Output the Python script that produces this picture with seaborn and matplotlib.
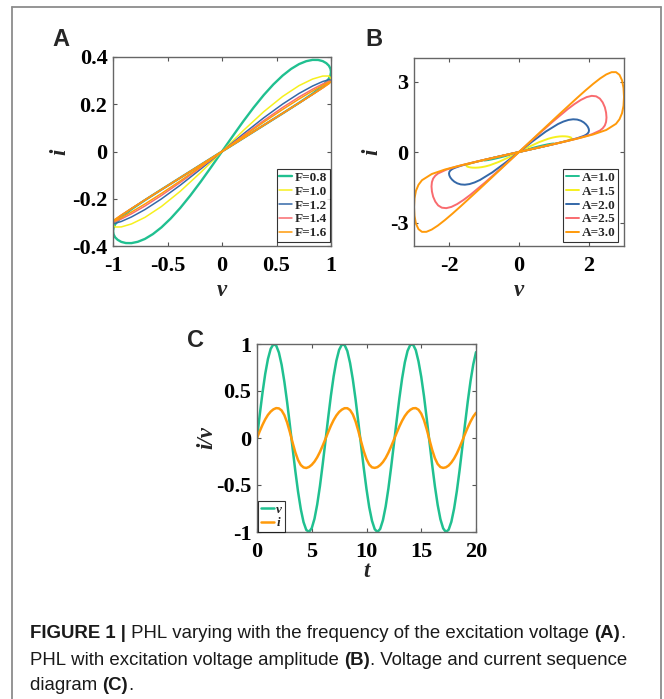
import numpy as np
import pandas as pd
import matplotlib
matplotlib.use("Agg")
import matplotlib.pyplot as plt
import seaborn as sns
from matplotlib.lines import Line2D
from matplotlib import font_manager

# ---------------- data ----------------
# Panel A: first-quadrant lobe of each pinched loop (the third-quadrant lobe is its point mirror)
A_V_LOBE = [0, .195, .383, .556, .707, .831, .924, .981, 1, .981, .924, .831, .707, .556, .383, .195, 0]
A_V_LOBE_08 = [0, .195, .383, .556, .707, .831, .924, .981, .995, 1, .995, .981, .957, .924, .882,
               .831, .773, .707, .634, .556, .471, .383, .290, .195, .098, 0]
A_I_F08 = [0, .0566, .1111, .1613, .2059, .2444, .2781, .3085, .3228, .3369, .3504, .3631, .3739,
           .3826, .3875, .3878, .3823, .3700, .3496, .3213, .2838, .2390, .1860, .1276, .0649, 0]
A_I_F10 = [0, .0566, .1111, .1613, .2054, .2425, .2725, .2953, .3110, .3196, .3193, .3067, .2789, .2329, .1684, .0884, 0]
A_I_F12 = [0, .0566, .1111, .1613, .2052, .2418, .2705, .2904, .3016, .3039, .2962, .2772, .2458, .2007, .1426, .0741, 0]
A_I_F14 = [0, .0566, .1111, .1613, .2051, .2415, .2695, .2882, .2973, .2967, .2858, .2638, .2307, .1862, .1309, .0676, 0]
A_I_F16 = [0, .0566, .1111, .1613, .2051, .2413, .2690, .2869, .2949, .2926, .2799, .2563, .2222, .1779, .1244, .0639, 0]
A_LABELS = ["F=0.8", "F=1.0", "F=1.2", "F=1.4", "F=1.6"]

# Panel B
B_V_10 = [0, .195, .383, .556, .707, .831, .924, .957, .981, .995, 1, .995, .981, .957, .924, .831, .707, .556, .383, .195, 0]
B_I_10 = [0, .0654, .1286, .1873, .2393, .2832, .3182, .3318, .3430, .3512, .3569, .3599, .3599, .3569, .3510, .3287, .2918, .2391, .1704, .0887, 0]
B_V_15 = [0, .293, .575, .834, 1.061, 1.247, 1.386, 1.435, 1.472, 1.493, 1.5, 1.493, 1.472, 1.435, 1.386,
          1.323, 1.247, 1.160, 1.061, .951, .834, .575, .293, 0]
B_I_15 = [0, .0981, .1932, .2818, .3613, .4308, .4904, .5165, .5409, .5638, .585, .6054, .6245, .6414, .6563,
          .6656, .6685, .6622, .6433, .6106, .5631, .4204, .2248, 0]
B_V_20 = [0, .39, .766, 1.112, 1.414, 1.662, 1.848, 1.914, 1.962, 1.990, 2, 1.990, 1.962, 1.914, 1.848,
          1.764, 1.662, 1.546, 1.414, 1.268, 1.112, .766, .39, 0]
B_I_20 = [0, .1308, .2579, .3771, .486, .5859, .6825, .7327, .7874, .8478, .9174, .9962, 1.0838, 1.1747, 1.2618,
          1.333, 1.3803, 1.392, 1.3649, 1.295, 1.1878, .8703, .4575, 0]
B_V_25 = [0, .488, .958, 1.39, 1.768, 2.078, 2.31, 2.392, 2.453, 2.488, 2.5, 2.488, 2.453, 2.392, 2.31,
          2.205, 2.078, 1.933, 1.768, 1.585, 1.39, .958, .488, 0]
B_I_25 = [0, .1636, .3228, .4732, .614, .7523, .9104, 1.009, 1.1309, 1.282, 1.4663, 1.678, 1.9017, 2.109, 2.273,
          2.369, 2.3898, 2.337, 2.2164, 2.040, 1.8226, 1.2839, .6605, 0]
B_V_30 = [0, .585, 1.149, 1.668, 2.121, 2.493, 2.772, 2.871, 2.943, 2.986, 3, 2.986, 2.943, 2.871, 2.772,
          2.646, 2.493, 2.319, 2.121, 1.902, 1.668, 1.149, .585, 0]
B_I_30 = [0, .196, .388, .570, .747, .937, 1.200, 1.393, 1.648, 1.969, 2.342, 2.723, 3.054, 3.284, 3.398,
          3.397, 3.300, 3.131, 2.901, 2.624, 2.313, 1.603, .818, 0]
B_LABELS = ["A=1.0", "A=1.5", "A=2.0", "A=2.5", "A=3.0"]

# Panel C: time series sampled every 0.25
C_T = np.arange(0, 20.25, 0.25)
C_V = [0, .247, .479, .682, .841, .949, .997, .984, .909, .778, .598, .382, .141, -.108, -.351, -.572,
       -.757, -.895, -.978, -.999, -.959, -.859, -.706, -.510, -.279, -.033, .215, .451, .657, .823,
       .938, .994, .989, .925, .798, .624, .412, .173, -.075, -.319, -.544, -.737, -.880, -.970,
       -1.000, -.967, -.875, -.729, -.537, -.310, -.066, .182, .420, .632, .804, .927, .991, .994,
       .935, .814, .650, .445, .206, -.042, -.288, -.516, -.712, -.864, -.961, -1.000, -.976, -.891,
       -.751, -.565, -.344, -.099, .150, .390, .605, .783, .913]
C_I = [0, .072, .139, .198, .246, .281, .305, .318, .315, .293, .243, .165, .063, -.048, -.153, -.235,
       -.288, -.313, -.319, -.308, -.285, -.251, -.205, -.148, -.081, -.010, .062, .131, .191, .240,
       .277, .302, .317, .317, .297, .251, .177, .077, -.034, -.140, -.225, -.283, -.312, -.318,
       -.310, -.288, -.256, -.212, -.156, -.090, -.019, .053, .122, .183, .234, .273, .300, .316,
       .318, .301, .259, .189, .092, -.019, -.127, -.216, -.277, -.309, -.318, -.312, -.293, -.261,
       -.218, -.164, -.100, -.029, .044, .113, .175, .228, .268]

A_XTICKS = [-1, -0.5, 0, 0.5, 1]
A_XTICKLABELS = ["-1", "-0.5", "0", "0.5", "1"]
A_YTICKS = [-0.4, -0.2, 0, 0.2, 0.4]
A_YTICKLABELS = ["-0.4", "-0.2", "0", "0.2", "0.4"]
B_XTICKS = [-2, 0, 2]
B_XTICKLABELS = ["-2", "0", "2"]
B_YTICKS = [-3, 0, 3]
B_YTICKLABELS = ["-3", "0", "3"]
C_XTICKS = [0, 5, 10, 15, 20]
C_XTICKLABELS = ["0", "5", "10", "15", "20"]
C_YTICKS = [-1, -0.5, 0, 0.5, 1]
C_YTICKLABELS = ["-1", "-0.5", "0", "0.5", "1"]

GREEN = "#20C090"
YELLOW = "#F6F01E"
BLUE = "#3468A8"
PINK = "#F96B6F"
ORANGE = "#FF9A0A"
COLORS = [GREEN, YELLOW, BLUE, PINK, ORANGE]

# ---------------- style ----------------
sns.set_style("ticks")
plt.rcParams["font.family"] = ["Liberation Serif", "DejaVu Serif"]
SERIF = "Liberation Serif"

W, H = 664, 699
fig = plt.figure(figsize=(W / 100, H / 100), dpi=100)
fig.patch.set_facecolor("white")


def ax_at(l, t, r, b):
    return fig.add_axes([l / W, 1 - b / H, (r - l) / W, (b - t) / H])


def style(ax, xlim, ylim, xt, xtl, yt, ytl):
    ax.set_xlim(*xlim)
    ax.set_ylim(*ylim)
    ax.set_xticks(xt)
    ax.set_xticklabels(xtl, fontsize=16, fontweight="bold", family=SERIF)
    ax.set_yticks(yt)
    ax.set_yticklabels(ytl, fontsize=16, fontweight="bold", family=SERIF)
    ax.tick_params(direction="in", length=3, width=0.8, color="#555555",
                   top=True, right=True, labelcolor="black")
    ax.tick_params(axis="x", pad=7.5)
    ax.tick_params(axis="y", pad=4)
    for sp in ax.spines.values():
        sp.set_visible(True)
        sp.set_color("#666666")
        sp.set_linewidth(1.0)


def loop_frame(v, i):
    v = np.asarray(v, float)
    i = np.asarray(i, float)
    return pd.DataFrame({"v": np.concatenate([v, -v]), "i": np.concatenate([i, -i])})


# ---------------- Panel A ----------------
axA = ax_at(113, 57, 331, 246)
a_sets = [(A_V_LOBE_08, A_I_F08), (A_V_LOBE, A_I_F10), (A_V_LOBE, A_I_F12),
          (A_V_LOBE, A_I_F14), (A_V_LOBE, A_I_F16)]
a_lw = [1.7, 1.1, 1.1, 1.1, 1.1]
for (vv, ii), lab, col, lw in zip(a_sets, A_LABELS, COLORS, a_lw):
    sns.lineplot(data=loop_frame(vv, ii), x="v", y="i", sort=False, estimator=None,
                 color=col, lw=lw, label=lab, ax=axA)
style(axA, (-1, 1), (-0.4, 0.4), A_XTICKS, A_XTICKLABELS, A_YTICKS, A_YTICKLABELS)
legA = axA.legend(loc="lower right", bbox_to_anchor=(0.996, 0.022), borderaxespad=0,
                  prop={"family": SERIF, "weight": "bold", "size": 9.5},
                  frameon=True, fancybox=False, handlelength=1.0, handletextpad=0.2,
                  borderpad=0.2, labelspacing=0.12)
legA.get_frame().set_edgecolor("black")
legA.get_frame().set_linewidth(0.8)

# ---------------- Panel B ----------------
axB = ax_at(414, 58, 624, 246)
b_sets = [(B_V_10, B_I_10), (B_V_15, B_I_15), (B_V_20, B_I_20), (B_V_25, B_I_25), (B_V_30, B_I_30)]
for (vv, ii), lab, col in zip(b_sets, B_LABELS, COLORS):
    sns.lineplot(data=loop_frame(vv, ii), x="v", y="i", sort=False, estimator=None,
                 color=col, lw=1.4, label=lab, ax=axB)
style(axB, (-3, 3), (-4, 4), B_XTICKS, B_XTICKLABELS, B_YTICKS, B_YTICKLABELS)
legB = axB.legend(loc="lower right", bbox_to_anchor=(0.971, 0.022), borderaxespad=0,
                  prop={"family": SERIF, "weight": "bold", "size": 9.5},
                  frameon=True, fancybox=False, handlelength=1.0, handletextpad=0.2,
                  borderpad=0.2, labelspacing=0.12)
legB.get_frame().set_edgecolor("black")
legB.get_frame().set_linewidth(0.8)

# ---------------- Panel C ----------------
axC = ax_at(257, 344, 476, 532)
dfC = pd.DataFrame({"t": C_T, "v": C_V, "i": C_I})
sns.lineplot(data=dfC, x="t", y="v", color=GREEN, lw=1.8, label="v", ax=axC)
sns.lineplot(data=dfC, x="t", y="i", color=ORANGE, lw=1.8, label="i", ax=axC)
style(axC, (0, 20), (-1, 1), C_XTICKS, C_XTICKLABELS, C_YTICKS, C_YTICKLABELS)
legC = axC.legend(loc="lower left", bbox_to_anchor=(0.004, 0.0), borderaxespad=0,
                  prop={"family": SERIF, "weight": "bold", "style": "italic", "size": 9.5},
                  frameon=True, fancybox=False, handlelength=1.0, handletextpad=0.2,
                  borderpad=0.2, labelspacing=0.1)
legC.get_frame().set_edgecolor("black")
legC.get_frame().set_linewidth(0.8)

# axis labels
lab_kw = dict(fontsize=16.5, fontweight="bold", fontstyle="italic", family=SERIF)
for ax, xl, yl, xy, yx in [(axA, "v", "i", -0.18, -0.197),
                           (axB, "v", "i", -0.18, -0.152),
                           (axC, "t", "i/v", -0.155, -0.183)]:
    ax.set_xlabel(xl, **lab_kw)
    ax.set_ylabel(yl, **lab_kw)
    ax.xaxis.set_label_coords(0.5, xy)
    ax.yaxis.set_label_coords(yx, 0.5)

# panel letters
for x, base, s in [(52, 46, "A"), (365, 46, "B"), (187, 347, "C")]:
    fig.text(x / W, 1 - base / H, s, family="Liberation Sans", fontweight="bold",
             fontsize=17, va="baseline", ha="left")

# frame around figure
fc = "#8c8c8c"
for xs, ys in [([12, 12], [7, H + 5]), ([661, 661], [7, H + 5]), ([12, 661], [7, 7])]:
    fig.add_artist(Line2D([x / W for x in xs], [1 - y / H for y in ys],
                          transform=fig.transFigure, color=fc, lw=1.3))

# ---------------- caption ----------------
names = {f.name for f in font_manager.fontManager.ttflist}
cap_font = "Liberation Sans Narrow" if "Liberation Sans Narrow" in names else "Liberation Sans"

lines = [
    [("FIGURE 1 |", "bold"), (" PHL varying with the frequency of the excitation voltage ", "normal"),
     ("(A)", "bold"), (".", "normal")],
    [("PHL with excitation voltage amplitude ", "normal"), ("(B)", "bold"),
     (". Voltage and current sequence", "normal")],
    [("diagram ", "normal"), ("(C)", "bold"), (".", "normal")],
]
baselines = [638, 665, 690]
renderer = fig.canvas.get_renderer()


def seg_width(txt, weight, size):
    t = fig.text(0, 0, txt.replace(" ", "\u00a0"), family=cap_font, fontweight=weight, fontsize=size)
    w = t.get_window_extent(renderer).width
    t.remove()
    return w


size0 = 12.0
w2 = sum(seg_width(s, wt, size0) for s, wt in lines[1])
size = size0 * 600.0 / w2

for segs, base in zip(lines, baselines):
    x = 30.0
    for s, wt in segs:
        fig.text(x / W, 1 - base / H, s.replace(" ", "\u00a0"), family=cap_font, fontweight=wt,
                 fontsize=size, va="baseline", ha="left", color="#1a1a1a")
        x += seg_width(s, wt, size)

fig.savefig("out.png", dpi=100, facecolor="white")
